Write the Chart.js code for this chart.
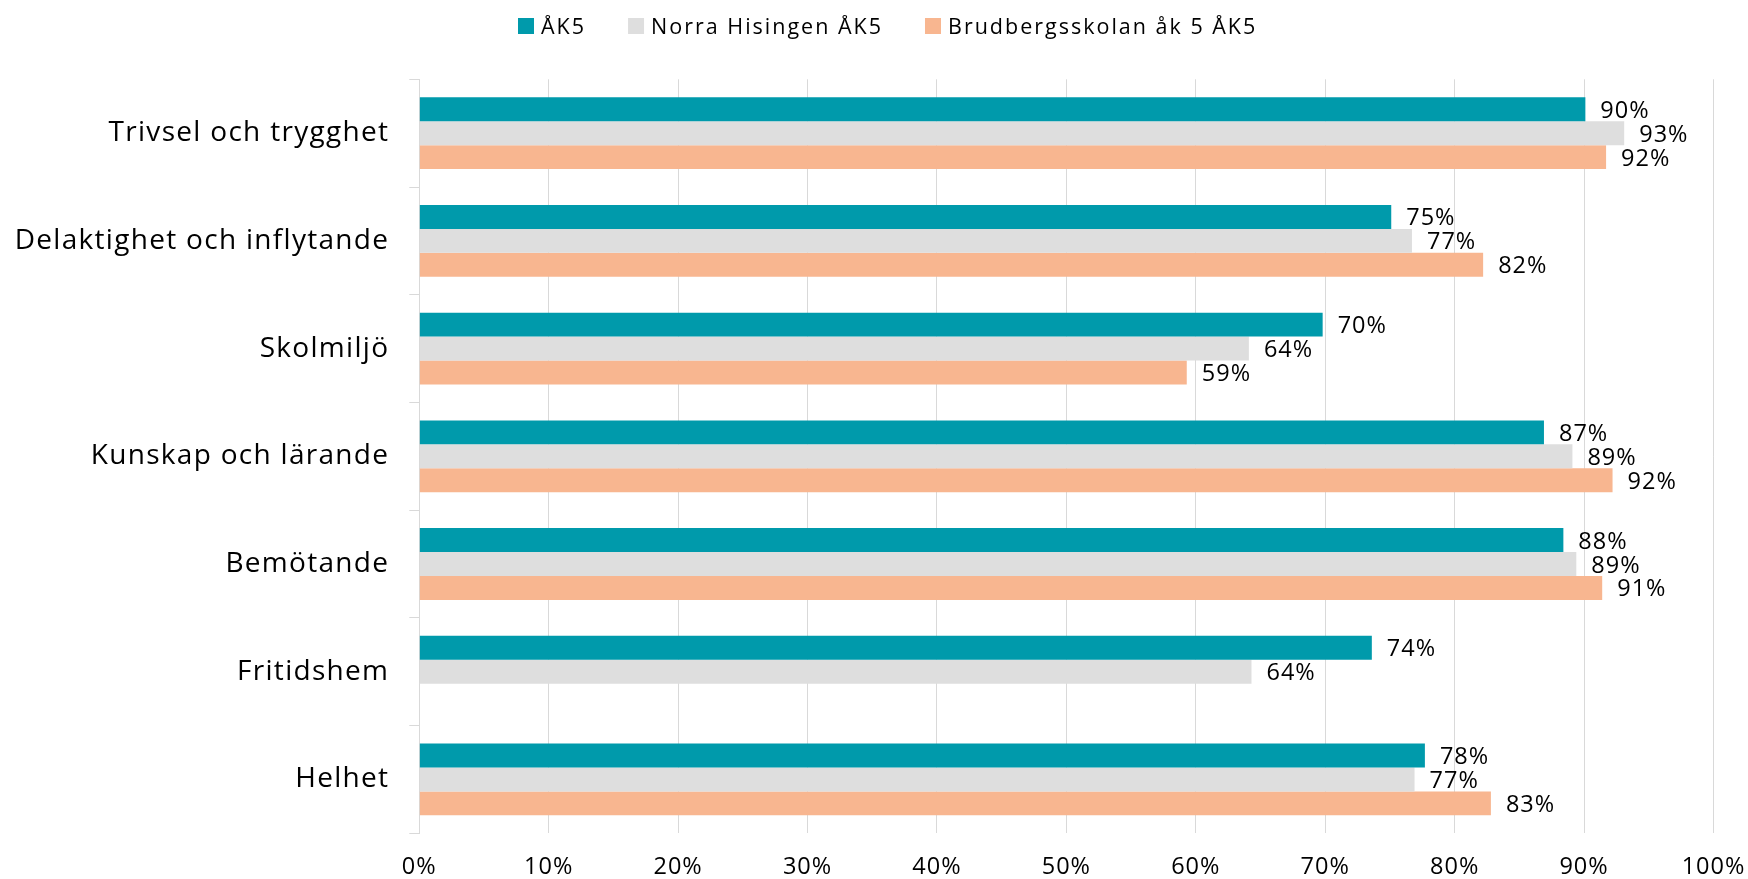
<!DOCTYPE html>
<html>
<head>
<meta charset="utf-8">
<script src="https://cdn.jsdelivr.net/npm/chart.js@4"></script>
<style>
  html, body { margin: 0; padding: 0; background: #fff; }
  #wrap { width: 1748px; height: 879px; }
</style>
</head>
<body>
<div id="wrap"><canvas id="myChart"></canvas></div>
<script>
const categories = ['Trivsel och trygghet', 'Delaktighet och inflytande', 'Skolmiljö', 'Kunskap och lärande', 'Bemötande', 'Fritidshem', 'Helhet'];
const seriesNames = ['ÅK5', 'Norra Hisingen ÅK5', 'Brudbergsskolan åk 5 ÅK5'];
const ak5 = [90.1, 75.1, 69.8, 86.9, 88.4, 73.6, 77.7];
const norraHisingen = [93.1, 76.7, 64.1, 89.1, 89.4, 64.3, 76.9];
const brudberg = [91.7, 82.2, 59.3, 92.2, 91.4, null, 82.8];
const tickStep = 10;
const colors = ['#009aab', '#dedede', '#f8b690'];

// legend drawn by hand so the spacing can match the original
const topLegend = {
  id: 'topLegend',
  afterDraw(chart) {
    const c = chart.ctx;
    c.save();
    c.font = '21.5px "Open Sans"';
    c.letterSpacing = '2px';
    c.textBaseline = 'alphabetic';
    let x = 518;
    chart.data.datasets.forEach(ds => {
      c.fillStyle = ds.backgroundColor;
      c.fillRect(x, 18, 16, 16);
      x += 23;
      c.fillStyle = '#000';
      c.fillText(ds.label, x, 33.5);
      x += c.measureText(ds.label).width + 42;
    });
    c.restore();
  }
};

const valueLabels = {
  id: 'valueLabels',
  afterDatasetsDraw(chart) {
    const c = chart.ctx;
    c.save();
    c.font = '23.5px "Open Sans"';
    c.letterSpacing = '1px';
    c.fillStyle = '#000';
    c.textBaseline = 'alphabetic';
    chart.data.datasets.forEach((ds, i) => {
      chart.getDatasetMeta(i).data.forEach((bar, j) => {
        const v = ds.data[j];
        if (v == null) return;
        c.fillText(Math.round(v) + '%', bar.x + 15, bar.y + 8.5);
      });
    });
    c.restore();
  }
};

// axis labels get a bit of letter spacing
const spacedTicks = {
  id: 'spacedTicks',
  beforeDraw(chart) {
    [['x', '1px'], ['y', '1.3px']].forEach(([id, ls]) => {
      const scale = chart.scales[id];
      if (scale._spaced) return;
      const orig = scale.drawLabels;
      scale.drawLabels = function (area) {
        const c = this.ctx;
        c.save();
        c.letterSpacing = ls;
        orig.call(this, area);
        c.restore();
      };
      scale._spaced = true;
    });
  }
};

const ctx = document.getElementById('myChart');

let chart = new Chart(ctx, {
  type: 'bar',
  data: {
    labels: categories,
    datasets: [
      { label: seriesNames[0], data: ak5, backgroundColor: colors[0] },
      { label: seriesNames[1], data: norraHisingen, backgroundColor: colors[1] },
      { label: seriesNames[2], data: brudberg, backgroundColor: colors[2] }
    ]
  },
  options: {
    indexAxis: 'y',
    responsive: true,
    maintainAspectRatio: false,
    animation: false,
    layout: { padding: { top: 79.3, right: 34.5, left: 0, bottom: 0 } },
    datasets: { bar: { categoryPercentage: 0.667, barPercentage: 1 } },
    plugins: {
      legend: { display: false },
      tooltip: { enabled: false }
    },
    scales: {
      x: {
        min: 0,
        max: 100,
        ticks: {
          stepSize: tickStep,
          callback: v => v + '%',
          color: '#000',
          font: { family: 'Open Sans', size: 23.5 },
          padding: 20,
          maxRotation: 0
        },
        grid: { color: '#d9d9d9', drawTicks: false },
        border: { display: false },
        afterFit: s => {
          s.height = 45.7;
          s.paddingLeft = 0;
          s.paddingRight = 0;
        }
      },
      y: {
        ticks: {
          color: '#000',
          font: { family: 'Open Sans', size: 28 },
          padding: 20
        },
        grid: { drawOnChartArea: false, drawTicks: true, tickLength: 10, color: '#d9d9d9', offset: true },
        border: { display: true, color: '#d9d9d9' },
        afterFit: s => { s.width = 419.3; }
      }
    }
  },
  plugins: [spacedTicks, valueLabels, topLegend]
});
</script>
</body>
</html>
